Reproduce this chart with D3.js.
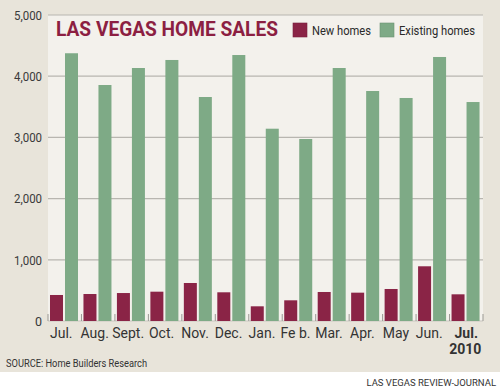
<!DOCTYPE html>
<html><head><meta charset="utf-8">
<script src="https://cdn.jsdelivr.net/npm/d3@7"></script>
<style>html,body{margin:0;padding:0;background:#fff;}svg{display:block;}</style>
</head><body>
<svg id="chart" width="500" height="390"></svg>
<script>
const months = ["Jul.","Aug.","Sept.","Oct.","Nov.","Dec.","Jan.","Fe b.","Mar.","Apr.","May","Jun.","Jul."];
const lastYear = "2010";
const newHomes = [425, 441, 457, 479, 621, 469, 240, 338, 474, 463, 523, 894, 436];
const existingHomes = [4375, 3856, 4134, 4265, 3660, 4346, 3142, 2974, 4134, 3758, 3644, 4314, 3578];
const yTicks = [0, 1000, 2000, 3000, 4000, 5000];
const seriesNames = ["New homes", "Existing homes"];
const title = "LAS VEGAS HOME SALES";
const source = "SOURCE: Home Builders Research";
const credit = "LAS VEGAS REVIEW-JOURNAL";

const colors = {new: "#8a2446", existing: "#7eaa86"};
const svg = d3.select("#chart");
const W = 500, H = 390;
const font = "Roboto, 'Open Sans', sans-serif";

// backgrounds
svg.append("rect").attr("width", W).attr("height", 372).attr("fill", "#e8e4da");
svg.append("rect").attr("y", 372).attr("width", W).attr("height", H - 372).attr("fill", "#ffffff");

const plot = {left: 48, right: 483};
const y = d3.scaleLinear().domain([0, 5000]).range([321, 15]);
const x0 = d3.scaleBand().domain(d3.range(months.length)).range([plot.left, plot.right]).padding(0);
const x1 = d3.scaleBand().domain(["new", "existing"]).range([2, 30]).paddingInner(2/15).paddingOuter(0);

svg.append("rect").attr("x", plot.left).attr("y", y(5000))
  .attr("width", plot.right - plot.left).attr("height", y(0) - y(5000)).attr("fill", "#f3f1ec");

// gridlines
svg.append("g").selectAll("line").data(yTicks).join("line")
  .attr("x1", plot.left).attr("x2", plot.right)
  .attr("y1", d => y(d)).attr("y2", d => y(d))
  .attr("stroke", d => d === 0 ? "#c9c6bf" : "#b8b6b0").attr("stroke-width", 1.2);

// y labels via axis
const yAxis = d3.axisLeft(y).tickValues(yTicks).tickSize(0).tickPadding(0).tickFormat(d3.format(","));
const gy = svg.append("g").attr("transform", "translate(42,0)").call(yAxis);
gy.select(".domain").remove();
gy.selectAll("text").attr("font-family", font).attr("font-size", 12.5).attr("fill", "#3a3a3a")
  .attr("dy", "0.35em").attr("text-anchor", "end")
  .each(function(d){ if (d !== 0) d3.select(this).attr("textLength", 28).attr("lengthAdjust", "spacingAndGlyphs"); });

// bars
const groups = svg.append("g").selectAll("g").data(months.map((m, i) => i)).join("g")
  .attr("transform", i => `translate(${x0(i)},0)`);
groups.append("rect")
  .attr("x", x1("new")).attr("width", x1.bandwidth())
  .attr("y", i => y(newHomes[i])).attr("height", i => y(0) - y(newHomes[i]))
  .attr("fill", colors.new);
groups.append("rect")
  .attr("x", x1("existing")).attr("width", x1.bandwidth())
  .attr("y", i => y(existingHomes[i])).attr("height", i => y(0) - y(existingHomes[i]))
  .attr("fill", colors.existing);

// baseline ticks at band boundaries
const bounds = d3.range(months.length + 1).map(i => i < months.length ? x0(i) : plot.right);
svg.append("g").selectAll("line").data(bounds).join("line")
  .attr("x1", d => d).attr("x2", d => d).attr("y1", y(0) - 7).attr("y2", y(0))
  .attr("stroke", "#9a9893").attr("stroke-width", 1);

// x labels
const xl = svg.append("g");
months.forEach((m, i) => {
  const last = i === months.length - 1;
  const cx = x0(i) + x0.bandwidth() / 2 + (last ? 0 : -3.5);
  xl.append("text").attr("x", cx).attr("y", 338).attr("text-anchor", "middle")
    .attr("font-family", font).attr("font-size", 14).attr("fill", "#333")
    .attr("font-weight", last ? "bold" : "normal").text(m);
});
xl.append("text").attr("x", x0(months.length - 1) + x0.bandwidth() / 2 - 1).attr("y", 354)
  .attr("text-anchor", "middle").attr("font-family", font).attr("font-size", 14)
  .attr("font-weight", "bold").attr("fill", "#333").text(lastYear);

// title
svg.append("text").attr("x", 56).attr("y", 36).attr("font-family", font)
  .attr("font-size", 20).attr("font-weight", "bold").attr("fill", "#8c1f42")
  .attr("textLength", 222).attr("lengthAdjust", "spacingAndGlyphs").text(title);

// legend
const legend = [
  {name: seriesNames[0], color: colors.new, x: 293, tx: 312, w: 59},
  {name: seriesNames[1], color: colors.existing, x: 380, tx: 399, w: 76}
];
const lg = svg.append("g");
legend.forEach(l => {
  lg.append("rect").attr("x", l.x).attr("y", 23).attr("width", 14).attr("height", 14)
    .attr("fill", l.color).attr("stroke", d3.color(l.color).darker(0.4)).attr("stroke-width", 0.6);
  lg.append("text").attr("x", l.tx).attr("y", 34.5).attr("font-family", font).attr("font-size", 13)
    .attr("fill", "#2a2a2a").attr("textLength", l.w).attr("lengthAdjust", "spacingAndGlyphs").text(l.name);
});

// source & credit
svg.append("text").attr("x", 6).attr("y", 367).attr("font-family", font).attr("font-size", 11)
  .attr("fill", "#333").attr("textLength", 141).attr("lengthAdjust", "spacingAndGlyphs").text(source);
svg.append("text").attr("x", 496).attr("y", 386).attr("text-anchor", "end").attr("font-family", font)
  .attr("font-size", 9.5).attr("fill", "#333").text(credit);
</script>
</body></html>
